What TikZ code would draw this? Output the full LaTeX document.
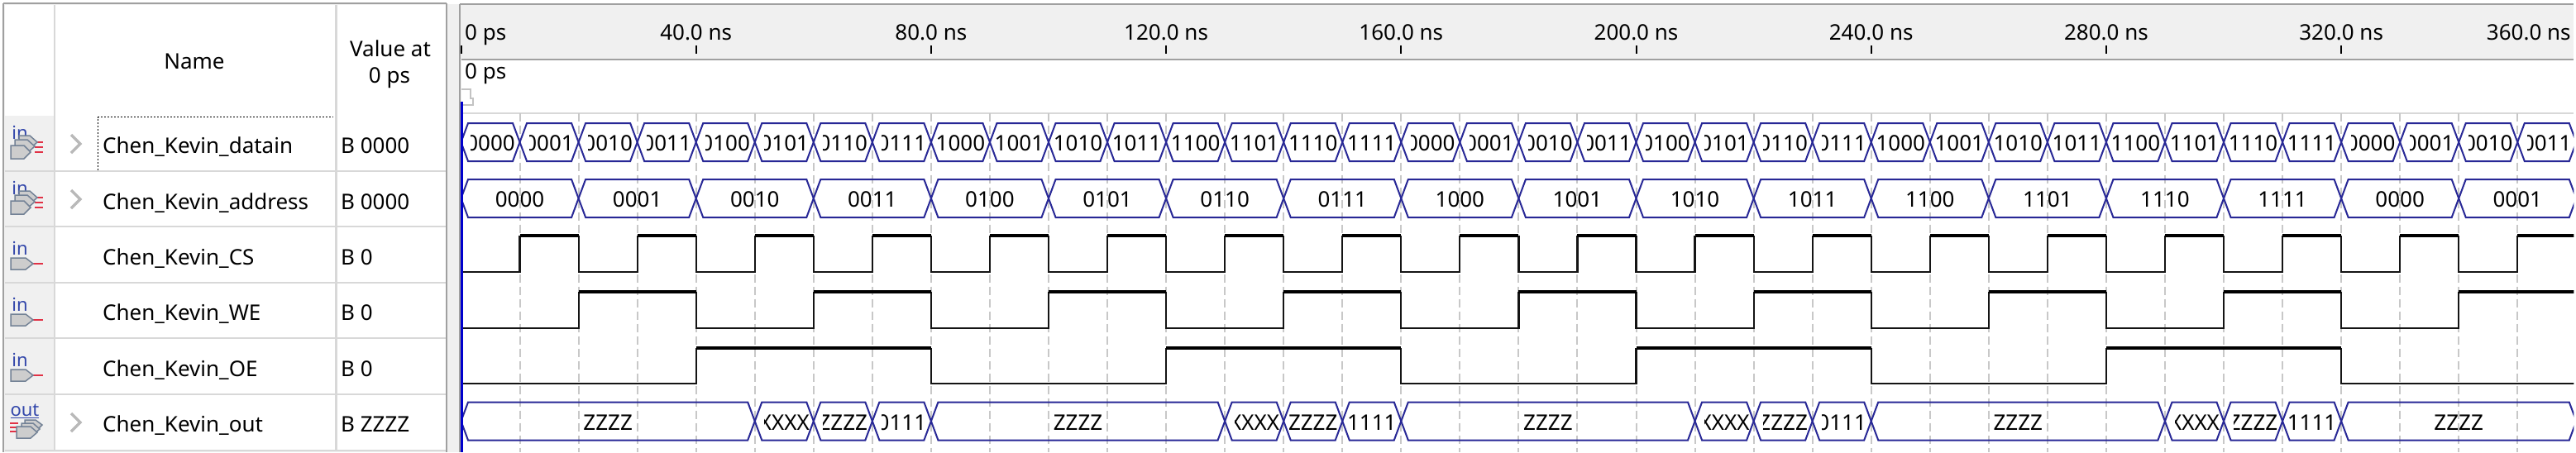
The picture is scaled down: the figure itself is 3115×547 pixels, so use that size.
\documentclass[tikz,border=0pt]{standalone}
\usepackage{fontspec}
\setmainfont{Noto Sans}

\tikzset{
  panelfill/.style={fill={rgb, 255:red, 240; green, 240; blue, 240 }},
  frameline/.style={color={rgb, 255:red, 160; green, 160; blue, 160 },line width=2.5},
  rowline/.style={color={rgb, 255:red, 216; green, 216; blue, 216 },line width=2.5},
  gridline/.style={color={rgb, 255:red, 200; green, 200; blue, 200 },line width=2,dash pattern={on 10pt off 5pt}},
  busline/.style={color={rgb, 255:red, 40; green, 40; blue, 150 },line width=2},
  lowline/.style={color={rgb, 255:red, 20; green, 20; blue, 20 },line width=2.2},
  highline/.style={color=black,line width=4.5},
  cursorline/.style={color={rgb, 255:red, 0; green, 0; blue, 205 },line width=3},
  celltext/.style={font=\fontsize{26}{26}\selectfont,inner sep=0pt},
  pintext/.style={font=\fontsize{22}{22}\selectfont,inner sep=0pt,color={rgb, 255:red, 50; green, 70; blue, 170 }},
  pinbody/.style={fill={rgb, 255:red, 205; green, 205; blue, 205 },draw={rgb, 255:red, 115; green, 130; blue, 150 },line width=1.5},
  pinwire/.style={color={rgb, 255:red, 225; green, 50; blue, 70 },line width=1.8},
  chevron/.style={color={rgb, 255:red, 185; green, 185; blue, 185 },line width=3.5}
}

% one value on a bus, times in ns, the option is how much of the text the cell hides on the left
\newcommand{\buscell}[5][1.7]{
  \draw [busline] (#2,#4) -- ({#2+1.2},{#4-23}) -- ({#3-1.2},{#4-23}) -- (#3,#4) -- ({#3-1.2},{#4+23}) -- ({#2+1.2},{#4+23}) -- cycle ;
  \begin{scope}
    \clip ({#2+#1},{#4-23}) rectangle (#3,{#4+23});
    \node [celltext] at ({(#2+#3)/2},{#4+1.5}) {#5};
  \end{scope}
}
% single input pin icon, #1 is the height of the body
\newcommand{\inpin}[1]{
  \node [pintext] at (24,{#1-19}) {in};
  \draw [pinwire] (38,#1) -- (52,#1) ;
  \draw [pinbody] (13,{#1-7}) -- (31,{#1-7}) -- (40,#1) -- (31,{#1+7}) -- (13,{#1+7}) -- cycle ;
}
% bus input pin icon
\newcommand{\inbus}[1]{
  \node [pintext] at (24,{#1-24}) {in};
  \draw [pinwire] (42,{#1-12}) -- (52,{#1-12}) (42,{#1-6}) -- (52,{#1-6}) (42,{#1}) -- (52,{#1}) ;
  \draw [pinbody] (23,{#1-20}) -- (36,{#1-20}) -- (45,{#1-12}) -- (36,{#1-4}) -- (23,{#1-4}) -- cycle ;
  \draw [pinbody] (18,{#1-15}) -- (33,{#1-15}) -- (42,{#1-7}) -- (33,{#1+1}) -- (18,{#1+1}) -- cycle ;
  \draw [pinbody] (13,{#1-8}) -- (29,{#1-8}) -- (37,#1) -- (29,{#1+8}) -- (13,{#1+8}) -- cycle ;
}

\begin{document}
\begin{tikzpicture}[x=1pt,y=1pt,yscale=-1]
\useasboundingbox (0,0) rectangle (3115,547);

%Backgrounds
\fill [panelfill] (4,5) rectangle (3112,547);
\fill [white] (6,6) rectangle (539,545);
\fill [white] (558,73) rectangle (3112,547);
\fill [panelfill] (6,140) rectangle (66,545);

%Frames
\draw [frameline] (4,4) -- (540,4) ;
\draw [frameline] (4,4) -- (4,547) ;
\draw [frameline] (540,4) -- (540,547) ;
\draw [frameline] (556,5) -- (3112,5) ;
\draw [frameline] (556,5) -- (556,547) ;
\draw [frameline] (558,72) -- (3112,72) ;

%Table lines
\draw [rowline] (66,6) -- (66,545) ;
\draw [rowline] (406.5,6) -- (406.5,545) ;
\draw [rowline] (6,207) -- (539,207) ;
\draw [rowline] (6,274) -- (539,274) ;
\draw [rowline] (6,342) -- (539,342) ;
\draw [rowline] (6,409) -- (539,409) ;
\draw [rowline] (6,477) -- (539,477) ;
\draw [rowline] (6,545) -- (539,545) ;
\draw [rowline] (558,137) -- (3112,137) ;

%Focus mark
\draw [line width=1.5,dash pattern={on 2pt off 2pt}] (118.5,206) -- (118.5,141.5) -- (403,141.5) ;

% Text Node
\node [celltext,anchor=base] (headname) at (235,83) {Name};
\node [celltext,anchor=base] (headvalue) at (472,68) {Value at};
\node [celltext,anchor=base] (headtime) at (471,100) {0 ps};

% Text Node
\node [celltext,anchor=base west] (namedatain) at (124,185) {Chen\_Kevin\_datain};
\node [celltext,anchor=base west] (nameaddress) at (124,253) {Chen\_Kevin\_address};
\node [celltext,anchor=base west] (namecs) at (124,320) {Chen\_Kevin\_CS};
\node [celltext,anchor=base west] (namewe) at (124,387) {Chen\_Kevin\_WE};
\node [celltext,anchor=base west] (nameoe) at (124,455) {Chen\_Kevin\_OE};
\node [celltext,anchor=base west] (nameout) at (124,522) {Chen\_Kevin\_out};

% Text Node
\node [celltext,anchor=base west] (valuedatain) at (412,185) {B 0000};
\node [celltext,anchor=base west] (valueaddress) at (412,253) {B 0000};
\node [celltext,anchor=base west] (valuecs) at (412,320) {B 0};
\node [celltext,anchor=base west] (valuewe) at (412,387) {B 0};
\node [celltext,anchor=base west] (valueoe) at (412,455) {B 0};
\node [celltext,anchor=base west] (valueout) at (412,522) {B ZZZZ};

%Chevrons
\draw [chevron] (86,163) -- (97,174) -- (86,185) ;
\draw [chevron] (86,230) -- (97,241) -- (86,252) ;
\draw [chevron] (86,500) -- (97,511) -- (86,522) ;

%Pin icons
\inbus{184}
\inbus{251}
\inpin{319}
\inpin{387}
\inpin{454}
\node [pintext] (outlabel) at (30,497) {\underline{out}};
\draw [pinwire] (12,512) -- (22,512) (12,517) -- (22,517) (12,522) -- (22,522) ;
\draw [pinbody] (30,508) -- (43,508) -- (51,514) -- (43,522) -- (30,522) -- cycle ;
\draw [pinbody] (26,512) -- (40,512) -- (48,519) -- (40,526) -- (26,526) -- cycle ;
\draw [pinbody] (20,516) -- (37,516) -- (45,523) -- (37,530) -- (20,530) -- cycle ;

% Text Node
\node [celltext,anchor=base west] (rulerzero) at (562,48) {0 ps};
\node [celltext,anchor=base west] (markerzero) at (562,95) {0 ps};

%Marker flag
\draw [color={rgb, 255:red, 195; green, 195; blue, 195 },line width=1.5] (558,108) -- (569,108) -- (569,119) -- (572,119) -- (572,127) -- (560,127) ;

\begin{scope}[shift={(557.5,0)},x=7.105pt]
% Ruler ticks
\draw [line width=2] (0,55) -- (0,65) (40,55) -- (40,65) (80,55) -- (80,65) (120,55) -- (120,65) (160,55) -- (160,65) (200,55) -- (200,65) (240,55) -- (240,65) (280,55) -- (280,65) (320,55) -- (320,65) ;

% Text Node
\node [celltext,anchor=base] (rulerforty) at (40,48) {40.0 ns};
\node [celltext,anchor=base] (rulereighty) at (80,48) {80.0 ns};
\node [celltext,anchor=base] (ruleronetwenty) at (120,48) {120.0 ns};
\node [celltext,anchor=base] (ruleronesixty) at (160,48) {160.0 ns};
\node [celltext,anchor=base] (rulertwohundred) at (200,48) {200.0 ns};
\node [celltext,anchor=base] (rulertwoforty) at (240,48) {240.0 ns};
\node [celltext,anchor=base] (rulertwoeighty) at (280,48) {280.0 ns};
\node [celltext,anchor=base] (rulerthreetwenty) at (320,48) {320.0 ns};
\node [celltext,anchor=base] (rulerthreesixty) at (351.9,48) {360.0 ns};

\clip (0,137) rectangle (359.6,547);

%Grid
\draw [gridline] (10,136.7) -- (10,547) (20,136.7) -- (20,547) (30,136.7) -- (30,547) (40,136.7) -- (40,547) (50,136.7) -- (50,547) (60,136.7) -- (60,547) (70,136.7) -- (70,547) ;
\draw [gridline] (80,136.7) -- (80,547) (90,136.7) -- (90,547) (100,136.7) -- (100,547) (110,136.7) -- (110,547) (120,136.7) -- (120,547) (130,136.7) -- (130,547) (140,136.7) -- (140,547) ;
\draw [gridline] (150,136.7) -- (150,547) (160,136.7) -- (160,547) (170,136.7) -- (170,547) (180,136.7) -- (180,547) (190,136.7) -- (190,547) (200,136.7) -- (200,547) (210,136.7) -- (210,547) ;
\draw [gridline] (220,136.7) -- (220,547) (230,136.7) -- (230,547) (240,136.7) -- (240,547) (250,136.7) -- (250,547) (260,136.7) -- (260,547) (270,136.7) -- (270,547) (280,136.7) -- (280,547) ;
\draw [gridline] (290,136.7) -- (290,547) (300,136.7) -- (300,547) (310,136.7) -- (310,547) (320,136.7) -- (320,547) (330,136.7) -- (330,547) (340,136.7) -- (340,547) (350,136.7) -- (350,547) ;

%Datain
\buscell{0}{10}{172}{0000}
\buscell{10}{20}{172}{0001}
\buscell{20}{30}{172}{0010}
\buscell{30}{40}{172}{0011}
\buscell{40}{50}{172}{0100}
\buscell{50}{60}{172}{0101}
\buscell{60}{70}{172}{0110}
\buscell{70}{80}{172}{0111}
\buscell[0.5]{80}{90}{172}{1000}
\buscell[0.5]{90}{100}{172}{1001}
\buscell[0.5]{100}{110}{172}{1010}
\buscell[0.5]{110}{120}{172}{1011}
\buscell[0.5]{120}{130}{172}{1100}
\buscell[0.5]{130}{140}{172}{1101}
\buscell[0.5]{140}{150}{172}{1110}
\buscell[0.5]{150}{160}{172}{1111}
\buscell{160}{170}{172}{0000}
\buscell{170}{180}{172}{0001}
\buscell{180}{190}{172}{0010}
\buscell{190}{200}{172}{0011}
\buscell{200}{210}{172}{0100}
\buscell{210}{220}{172}{0101}
\buscell{220}{230}{172}{0110}
\buscell{230}{240}{172}{0111}
\buscell[0.5]{240}{250}{172}{1000}
\buscell[0.5]{250}{260}{172}{1001}
\buscell[0.5]{260}{270}{172}{1010}
\buscell[0.5]{270}{280}{172}{1011}
\buscell[0.5]{280}{290}{172}{1100}
\buscell[0.5]{290}{300}{172}{1101}
\buscell[0.5]{300}{310}{172}{1110}
\buscell[0.5]{310}{320}{172}{1111}
\buscell{320}{330}{172}{0000}
\buscell{330}{340}{172}{0001}
\buscell{340}{350}{172}{0010}
\buscell{350}{360}{172}{0011}

%Address
\buscell{0}{20}{240}{0000}
\buscell{20}{40}{240}{0001}
\buscell{40}{60}{240}{0010}
\buscell{60}{80}{240}{0011}
\buscell{80}{100}{240}{0100}
\buscell{100}{120}{240}{0101}
\buscell{120}{140}{240}{0110}
\buscell{140}{160}{240}{0111}
\buscell{160}{180}{240}{1000}
\buscell{180}{200}{240}{1001}
\buscell{200}{220}{240}{1010}
\buscell{220}{240}{240}{1011}
\buscell{240}{260}{240}{1100}
\buscell{260}{280}{240}{1101}
\buscell{280}{300}{240}{1110}
\buscell{300}{320}{240}{1111}
\buscell{320}{340}{240}{0000}
\buscell{340}{360}{240}{0001}

%CS
\draw [lowline] (0,329) -- (10,329) -- (10,285) (20,285) -- (20,329) -- (30,329) -- (30,285) (40,285) -- (40,329) -- (50,329) -- (50,285) (60,285) -- (60,329) -- (70,329) -- (70,285) (80,285) -- (80,329) -- (90,329) -- (90,285) ;
\draw [lowline] (100,285) -- (100,329) -- (110,329) -- (110,285) (120,285) -- (120,329) -- (130,329) -- (130,285) (140,285) -- (140,329) -- (150,329) -- (150,285) (160,285) -- (160,329) -- (170,329) -- (170,285) (180,285) -- (180,329) -- (190,329) -- (190,285) ;
\draw [lowline] (200,285) -- (200,329) -- (210,329) -- (210,285) (220,285) -- (220,329) -- (230,329) -- (230,285) (240,285) -- (240,329) -- (250,329) -- (250,285) (260,285) -- (260,329) -- (270,329) -- (270,285) (280,285) -- (280,329) -- (290,329) -- (290,285) ;
\draw [lowline] (300,285) -- (300,329) -- (310,329) -- (310,285) (320,285) -- (320,329) -- (330,329) -- (330,285) (340,285) -- (340,329) -- (350,329) -- (350,285) ;
\draw [highline] (10,285) -- (20,285) (30,285) -- (40,285) (50,285) -- (60,285) (70,285) -- (80,285) (90,285) -- (100,285) (110,285) -- (120,285) (130,285) -- (140,285) (150,285) -- (160,285) (170,285) -- (180,285) ;
\draw [highline] (190,285) -- (200,285) (210,285) -- (220,285) (230,285) -- (240,285) (250,285) -- (260,285) (270,285) -- (280,285) (290,285) -- (300,285) (310,285) -- (320,285) (330,285) -- (340,285) (350,285) -- (360,285) ;

%WE
\draw [lowline] (0,397) -- (20,397) -- (20,353) (40,353) -- (40,397) -- (60,397) -- (60,353) (80,353) -- (80,397) -- (100,397) -- (100,353) (120,353) -- (120,397) -- (140,397) -- (140,353) (160,353) -- (160,397) -- (180,397) -- (180,353) ;
\draw [lowline] (200,353) -- (200,397) -- (220,397) -- (220,353) (240,353) -- (240,397) -- (260,397) -- (260,353) (280,353) -- (280,397) -- (300,397) -- (300,353) (320,353) -- (320,397) -- (340,397) -- (340,353) ;
\draw [highline] (20,353) -- (40,353) (60,353) -- (80,353) (100,353) -- (120,353) (140,353) -- (160,353) (180,353) -- (200,353) (220,353) -- (240,353) (260,353) -- (280,353) (300,353) -- (320,353) (340,353) -- (360,353) ;

%OE
\draw [lowline] (0,464) -- (40,464) -- (40,421) (80,421) -- (80,464) -- (120,464) -- (120,421) (160,421) -- (160,464) -- (200,464) -- (200,421) (240,421) -- (240,464) -- (280,464) -- (280,421) (320,421) -- (320,464) -- (360,464) ;
\draw [highline] (40,421) -- (80,421) (120,421) -- (160,421) (200,421) -- (240,421) (280,421) -- (320,421) ;

%Out
\buscell{0}{50}{509.5}{ZZZZ}
\buscell{50}{60}{509.5}{XXXX}
\buscell{60}{70}{509.5}{ZZZZ}
\buscell{70}{80}{509.5}{0111}
\buscell{80}{130}{509.5}{ZZZZ}
\buscell{130}{140}{509.5}{XXXX}
\buscell[1]{140}{150}{509.5}{ZZZZ}
\buscell[0.5]{150}{160}{509.5}{1111}
\buscell{160}{210}{509.5}{ZZZZ}
\buscell{210}{220}{509.5}{XXXX}
\buscell{220}{230}{509.5}{ZZZZ}
\buscell{230}{240}{509.5}{0111}
\buscell{240}{290}{509.5}{ZZZZ}
\buscell{290}{300}{509.5}{XXXX}
\buscell{300}{310}{509.5}{ZZZZ}
\buscell[0.5]{310}{320}{509.5}{1111}
\buscell{320}{360}{509.5}{ZZZZ}
\end{scope}

%Cursor
\draw [cursorline] (558.5,123) -- (558.5,547) ;
\end{tikzpicture}
\end{document}
